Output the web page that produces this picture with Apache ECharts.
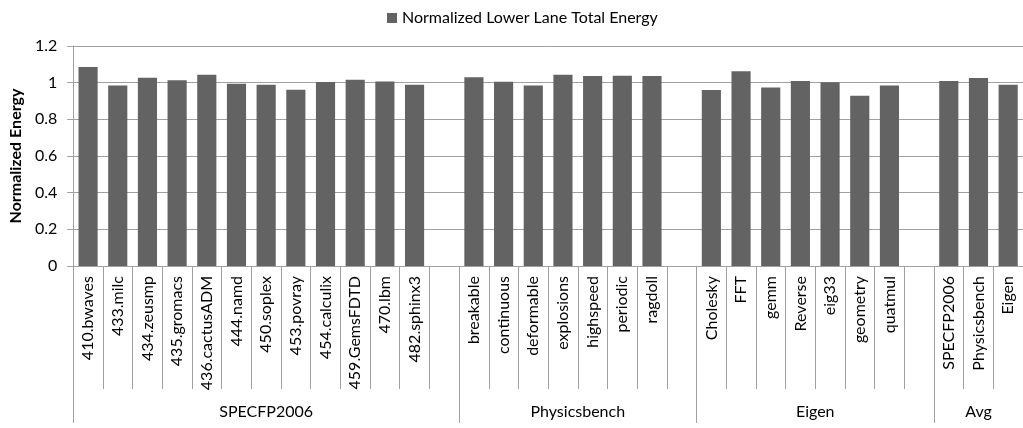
<!DOCTYPE html>
<html><head><meta charset="utf-8">
<script src="https://cdn.jsdelivr.net/npm/echarts@6/dist/echarts.min.js"></script>
<style>html,body{margin:0;padding:0;background:#fff}#c{width:1023px;height:428px}</style>
</head><body><div id="c"></div>
<script>
const seriesName = 'Normalized Lower Lane Total Energy';
const yAxisName = 'Normalized Energy';
const specNames = ['410.bwaves','433.milc','434.zeusmp','435.gromacs','436.cactusADM','444.namd','450.soplex','453.povray','454.calculix','459.GemsFDTD','470.lbm','482.sphinx3'];
const specValues = [1.085,0.985,1.027,1.013,1.043,0.994,0.989,0.962,1.003,1.016,1.007,0.989];
const physNames = ['breakable','continuous','deformable','explosions','highspeed','periodic','ragdoll'];
const physValues = [1.029,1.005,0.985,1.043,1.036,1.038,1.036];
const eigenNames = ['Cholesky','FFT','gemm','Reverse','eig33','geometry','quatmul'];
const eigenValues = [0.960,1.062,0.973,1.009,1.002,0.929,0.984];
const avgNames = ['SPECFP2006','Physicsbench','Eigen'];
const avgValues = [1.009,1.025,0.989];
const groupNames = ['SPECFP2006','Physicsbench','Eigen','Avg'];
const yMin = 0, yMax = 1.2, yStep = 0.2;

// build slots: each group followed by an empty gap slot (except the last)
const groups = [
  {names: specNames, values: specValues, gap: true},
  {names: physNames, values: physValues, gap: true},
  {names: eigenNames, values: eigenValues, gap: true},
  {names: avgNames, values: avgValues, gap: false}
];
const categories = [], data = [], groupStarts = [], groupSizes = [];
let gapId = 0;
groups.forEach(g => {
  groupStarts.push(categories.length);
  g.names.forEach((n, i) => { categories.push(n); data.push(g.values[i]); });
  if (g.gap) { gapId++; categories.push(' '.repeat(gapId)); data.push('-'); }
  groupSizes.push(categories.length - groupStarts[groupStarts.length - 1]);
});
const nSlots = categories.length;
// half-slot boundary axis for group labels and separators
const halfPts = [];
for (let i = 0; i <= nSlots * 2; i++) halfPts.push(String(i));
const labelAt = {}, tickAt = {};
groupStarts.forEach((s, gi) => {
  labelAt[2 * s + groupSizes[gi]] = groupNames[gi];
  tickAt[2 * s] = true;
});
tickAt[nSlots * 2] = true;

const FONT = 'Lato';
const GRAY = '#a0a0a0';
const chart = echarts.init(document.getElementById('c'));
chart.setOption({
  animation: false,
  textStyle: {fontFamily: FONT},
  legend: {
    data: [seriesName], icon: 'rect', itemWidth: 10, itemHeight: 10,
    left: 382, top: 5, textStyle: {fontSize: 16, color: '#000', fontFamily: FONT}
  },
  grid: {left: 66, top: 46, bottom: 162, width: 962, containLabel: false},
  xAxis: [{
    type: 'category', data: categories, boundaryGap: true,
    axisLine: {show: true, lineStyle: {color: GRAY}},
    axisTick: {show: true, interval: 0, length: 123, lineStyle: {color: GRAY}},
    axisLabel: {interval: 0, rotate: 90, margin: 10, fontSize: 16, color: '#000', fontFamily: FONT},
    splitLine: {show: false}
  }, {
    type: 'category', data: halfPts, boundaryGap: false, position: 'bottom',
    axisLine: {show: false},
    axisTick: {show: true, length: 157, lineStyle: {color: GRAY},
      interval: (idx) => !!tickAt[idx]},
    axisLabel: {margin: 138, fontSize: 16, color: '#000', fontFamily: FONT,
      interval: (idx) => labelAt[idx] !== undefined,
      formatter: (v, idx) => labelAt[idx] || ''},
    splitLine: {show: false}
  }],
  yAxis: {
    type: 'value', min: yMin, max: yMax, interval: yStep,
    name: yAxisName, nameLocation: 'middle', nameGap: 41, nameRotate: 90,
    nameTextStyle: {fontSize: 16, fontWeight: 'bold', color: '#000', fontFamily: FONT},
    axisLine: {show: true, lineStyle: {color: GRAY}},
    axisTick: {show: true, length: 6, lineStyle: {color: GRAY}},
    axisLabel: {margin: 16, fontSize: 16, color: '#000', fontFamily: FONT},
    splitLine: {show: true, lineStyle: {color: GRAY}}
  },
  series: [{
    name: seriesName, type: 'bar', xAxisIndex: 0, data: data,
    barCategoryGap: '35.5%', itemStyle: {color: '#636363'}
  }]
});
</script></body></html>
